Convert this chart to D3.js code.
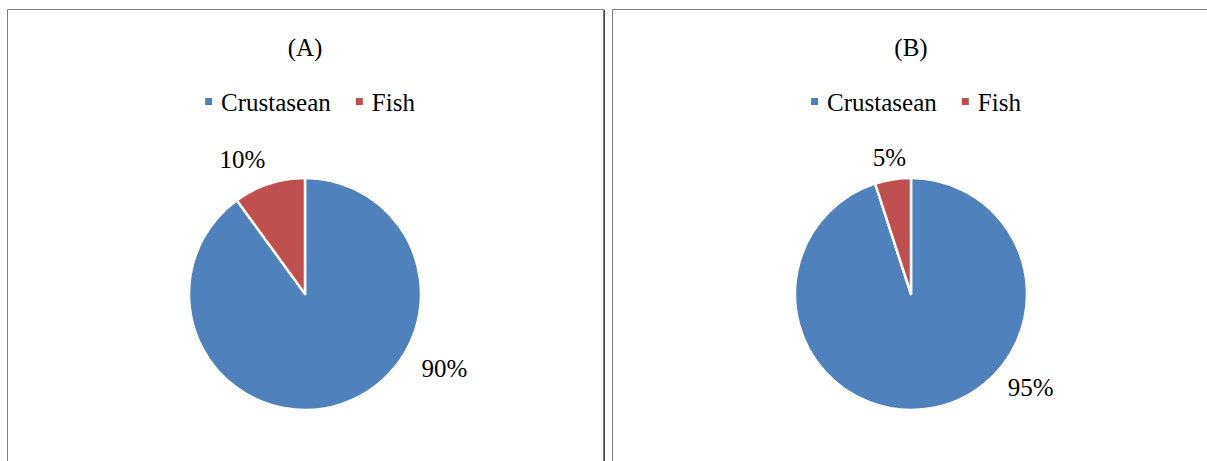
<!DOCTYPE html>
<html lang="en">
<head>
	<meta charset="UTF-8">
	<title>Crustasean vs Fish</title>
	<style>
		html, body {width: 100%; height: 100%; padding: 0; margin: 0; background: #fff;}
		text {font-family: "Liberation Serif", "Times New Roman", serif; fill: #000;}
	</style>
	<script src="https://d3js.org/d3.v7.min.js"></script>
</head>
<body>

<script>
	// data
	var categories = ['Crustasean', 'Fish'];
	var titles = ['(A)', '(B)'];
	var valuesA = [90, 10];
	var valuesB = [95, 5];
	var colors = ['#4F81BD', '#C0504D'];
</script>

<script>
	var width = 1207;
	var height = 461;
	var fontSize = 25;
	var radius = 116;
	// panels: left edge, right edge
	var panels = [
		{x0: 7.5, x1: 603.5, cx: 305, values: valuesA, title: titles[0],
			// label placement (degrees off the slice middle, distance from centre)
			labels: [[-44, 158], [-7, 148]]},
		{x0: 612.5, x1: 1215, cx: 911, values: valuesB, title: titles[1],
			labels: [[-43, 152], [0, 138]]}
	];
	var cy = 294;

	var svg = d3.select('body').append('svg')
		.attr('width', width)
		.attr('height', height);

	var pie = d3.pie().sort(null).value(function (d) { return d; });
	var arc = d3.arc().innerRadius(0).outerRadius(radius);
	var color = d3.scaleOrdinal().domain(categories).range(colors);

	panels.forEach(function (p) {
		var g = svg.append('g');

		// frame
		g.append('path')
			.attr('d', 'M' + p.x0 + ',' + (height + 5) + 'V9.5H' + p.x1 + 'V' + (height + 5))
			.attr('fill', 'none')
			.attr('stroke', '#7f7f7f')
			.attr('stroke-width', 1);
		g.append('line')
			.attr('x1', p.x1 + 1).attr('x2', p.x1 + 1)
			.attr('y1', 10).attr('y2', height + 5)
			.attr('stroke', '#404040')
			.attr('stroke-width', 1);

		// title
		g.append('text')
			.attr('x', p.cx)
			.attr('y', 56)
			.attr('text-anchor', 'middle')
			.style('font-size', fontSize + 'px')
			.text(p.title);

		// legend
		var legend = g.append('g');
		var cursor = 0;
		categories.forEach(function (c, i) {
			legend.append('rect')
				.attr('x', cursor)
				.attr('y', -4)
				.attr('width', 7)
				.attr('height', 7)
				.attr('fill', color(c));
			var t = legend.append('text')
				.attr('x', cursor + 16)
				.attr('y', 8.5)
				.style('font-size', fontSize + 'px')
				.text(c);
			cursor += 16 + t.node().getComputedTextLength() + 25;
		});
		var legendWidth = cursor - 25;
		legend.attr('transform', 'translate(' + (p.cx + 5 - legendWidth / 2) + ',102)');

		// pie
		var arcs = pie(p.values);
		var pg = g.append('g').attr('transform', 'translate(' + p.cx + ',' + cy + ')');
		pg.selectAll('path')
			.data(arcs)
			.enter().append('path')
			.attr('d', arc)
			.attr('fill', function (d, i) { return color(categories[i]); })
			.attr('stroke', '#fff')
			.attr('stroke-width', 2.5)
			.attr('stroke-linejoin', 'round');

		// percentage labels
		var total = d3.sum(p.values);
		pg.selectAll('text.lbl')
			.data(arcs)
			.enter().append('text')
			.attr('class', 'lbl')
			.attr('text-anchor', 'middle')
			.style('font-size', fontSize + 'px')
			.attr('transform', function (d, i) {
				var a = (d.startAngle + d.endAngle) / 2 + p.labels[i][0] * Math.PI / 180;
				var r = p.labels[i][1];
				return 'translate(' + (r * Math.sin(a)) + ',' + (-r * Math.cos(a) + 8.5) + ')';
			})
			.text(function (d) { return Math.round(d.value / total * 100) + '%'; });
	});
</script>

</body>
</html>
